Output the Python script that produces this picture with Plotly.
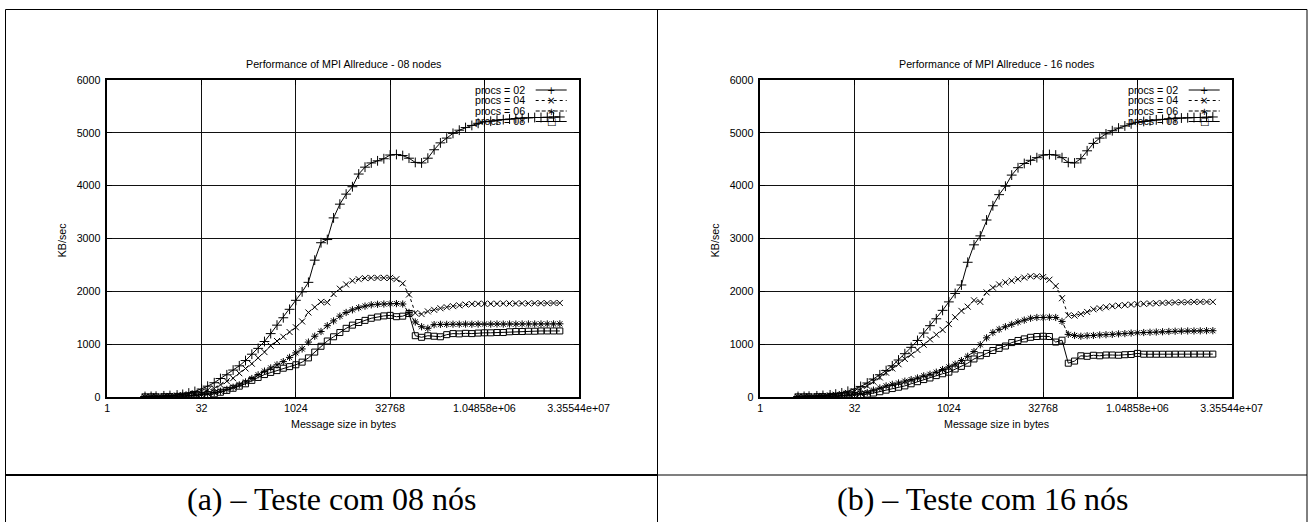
import math
import plotly.graph_objects as go

W, H = 1311, 522

# ---------------- data ----------------
sizes = [4, 5, 6, 8, 10, 13, 16, 20, 25, 32, 40, 51, 64, 81, 102, 128, 161, 203,
         256, 323, 406, 512, 645, 813, 1024, 1290, 1625, 2048, 2580, 3251, 4096,
         5161, 6502, 8192, 10321, 13004, 16384, 20643, 26008, 32768, 41285, 52016,
         65536, 82570, 104032, 131072, 165140, 208064, 262144, 330281, 416128,
         524288, 660562, 832255, 1048576, 1321123, 1664511, 2097152, 2642246,
         3329021, 4194304, 5284492, 6658043, 8388608, 10568984, 13316085, 16777216]

series_names = ["procs = 02", "procs = 04", "procs = 06", "procs = 08"]

a_procs02 = [10, 12, 15, 22, 28, 38, 50, 75, 105, 150, 205, 270, 350, 420, 510, 590, 690, 810,
             920, 1050, 1200, 1360, 1500, 1660, 1830, 1990, 2170, 2590, 2920, 2980, 3390, 3650,
             3840, 3980, 4220, 4350, 4430, 4470, 4510, 4580, 4590, 4570, 4520, 4440, 4430, 4520,
             4680, 4810, 4900, 4990, 5050, 5100, 5140, 5180, 5210, 5220, 5240, 5250, 5260, 5270,
             5280, 5285, 5290, 5290, 5295, 5300, 5300]
a_procs04 = [5, 7, 10, 14, 20, 28, 38, 52, 72, 100, 130, 160, 230, 300, 355, 450, 540, 630,
             740, 850, 970, 1060, 1140, 1230, 1320, 1430, 1600, 1700, 1800, 1790, 1950, 2050,
             2130, 2200, 2230, 2250, 2255, 2255, 2255, 2255, 2230, 2150, 1940, 1590, 1570, 1620,
             1650, 1680, 1700, 1720, 1735, 1750, 1760, 1765, 1765, 1765, 1765, 1770, 1770, 1770,
             1772, 1772, 1775, 1775, 1775, 1778, 1780]
a_procs06 = [3, 4, 6, 8, 11, 15, 20, 28, 38, 50, 62, 85, 110, 145, 185, 230, 285, 350,
             420, 490, 550, 610, 670, 750, 835, 910, 1040, 1150, 1240, 1350, 1440, 1530,
             1600, 1650, 1690, 1720, 1745, 1755, 1760, 1765, 1768, 1760, 1600, 1420, 1330, 1300,
             1370, 1375, 1375, 1378, 1378, 1380, 1378, 1380, 1380, 1380, 1382, 1380, 1382, 1380,
             1382, 1383, 1382, 1383, 1383, 1383, 1385]
a_procs08 = [2, 3, 4, 6, 8, 11, 15, 20, 26, 34, 45, 60, 90, 125, 165, 205, 250, 315,
             370, 425, 465, 500, 545, 575, 610, 660, 740, 850, 960, 1060, 1140, 1220,
             1300, 1360, 1410, 1450, 1490, 1515, 1535, 1545, 1520, 1530, 1580, 1160, 1130, 1160,
             1150, 1140, 1180, 1200, 1195, 1205, 1200, 1210, 1215, 1215, 1220, 1220, 1235, 1240,
             1240, 1245, 1245, 1250, 1250, 1250, 1250]

b_procs02 = [10, 12, 16, 22, 30, 40, 55, 78, 108, 150, 200, 265, 340, 420, 500, 590, 700, 820,
             940, 1070, 1210, 1350, 1480, 1640, 1800, 1960, 2120, 2550, 2880, 3050, 3350, 3620,
             3830, 3990, 4200, 4340, 4420, 4480, 4530, 4580, 4590, 4580, 4530, 4440, 4430, 4510,
             4660, 4800, 4900, 4980, 5040, 5090, 5130, 5170, 5200, 5215, 5230, 5245, 5255, 5265,
             5275, 5280, 5285, 5290, 5290, 5295, 5300]
b_procs04 = [5, 7, 10, 15, 21, 30, 42, 58, 78, 105, 150, 210, 290, 370, 460, 540, 620, 720,
             800, 890, 990, 1090, 1180, 1270, 1380, 1510, 1630, 1710, 1830, 1800, 1980, 2070,
             2130, 2170, 2200, 2230, 2260, 2285, 2285, 2270, 2220, 2100, 1870, 1545, 1540, 1570,
             1610, 1660, 1680, 1700, 1720, 1730, 1740, 1750, 1758, 1765, 1770, 1775, 1780, 1785,
             1790, 1795, 1795, 1800, 1800, 1800, 1800]
b_procs06 = [3, 4, 6, 8, 11, 15, 20, 27, 37, 50, 65, 85, 130, 170, 210, 240, 265, 300,
             330, 360, 400, 430, 470, 520, 570, 620, 690, 770, 860, 990, 1120, 1220,
             1280, 1330, 1375, 1420, 1455, 1490, 1505, 1505, 1510, 1505, 1430, 1185, 1165, 1150,
             1160, 1165, 1175, 1180, 1185, 1195, 1200, 1210, 1215, 1220, 1225, 1230, 1235, 1240,
             1245, 1248, 1250, 1250, 1252, 1255, 1255]
b_procs08 = [2, 3, 4, 6, 8, 11, 15, 20, 26, 32, 42, 55, 75, 100, 130, 160, 185, 210,
             250, 290, 330, 360, 405, 440, 470, 530, 580, 640, 720, 780, 825, 880,
             920, 965, 1030, 1070, 1100, 1130, 1145, 1150, 1145, 1040, 1075, 640, 680, 780,
             770, 790, 780, 795, 795, 790, 800, 805, 825, 810, 810, 810, 810, 810,
             811, 811, 811, 812, 812, 812, 812]

x_tick_vals = [1, 32, 1024, 32768, 1048576, 33554432]
x_tick_text = ["1", "32", "1024", "32768", "1.04858e+06", "3.35544e+07"]
x_minor_vals = [2 ** k for k in range(26)]
y_tick_vals = [0, 1000, 2000, 3000, 4000, 5000, 6000]
y_tick_text = ["0", "1000", "2000", "3000", "4000", "5000", "6000"]
titles = ["Performance of MPI Allreduce - 08 nodes", "Performance of MPI Allreduce - 16 nodes"]
captions = ["(a) \u2013 Teste com 08 n\u00f3s", "(b) \u2013 Teste com 16 n\u00f3s"]

# ---------------- styles ----------------
styles = [
    dict(symbol="cross-thin", size=7, dash="solid", key="+"),
    dict(symbol="x-thin", size=6, dash="dot", key="\u00d7"),
    dict(symbol="asterisk", size=6, dash="4px,2px", key="\u2217"),
    dict(symbol="square-open", size=6, dash="solid", key="\u25a1"),
]
FONT = "Liberation Sans, Arial, sans-serif"
SERIF = "Liberation Serif, Times New Roman, serif"
FS = 10.7


def fx(p):
    return p / W


def fy(p):
    return 1 - p / H


panels = [
    dict(left=107.3, right=578.7, data=[a_procs02, a_procs04, a_procs06, a_procs08],
         cell=(5.5, 657.5)),
    dict(left=760.3, right=1231.7, data=[b_procs02, b_procs04, b_procs06, b_procs08],
         cell=(657.5, 1307.0)),
]
TOP, BOTTOM = 80.0, 397.0
XRANGE = [0, math.log10(2 ** 25)]

fig = go.Figure()
annotations = []
shapes = []
layout = {}

for pi, p in enumerate(panels):
    xn, yn = 2 * pi + 1, pi + 1
    xa = "x" if xn == 1 else "x%d" % xn
    ya = "y" if yn == 1 else "y%d" % yn
    xkey = "xaxis" if xn == 1 else "xaxis%d" % xn
    ykey = "yaxis" if yn == 1 else "yaxis%d" % yn
    minor_key = "xaxis%d" % (xn + 1)
    for si, vals in enumerate(p["data"]):
        st = styles[si]
        fig.add_trace(go.Scatter(
            x=sizes, y=vals, mode="lines+markers", name=series_names[si],
            xaxis=xa, yaxis=ya, showlegend=False,
            line=dict(color="black", width=1, dash=st["dash"]),
            marker=dict(symbol=st["symbol"], size=st["size"], color="black",
                        line=dict(color="black", width=1)),
        ))
    tickfont = dict(family=FONT, size=FS, color="black")
    layout[xkey] = dict(
        type="log", range=XRANGE, domain=[fx(p["left"]), fx(p["right"])], anchor=ya,
        tickmode="array", tickvals=x_tick_vals, ticktext=x_tick_text,
        ticks="inside", ticklen=5, tickwidth=1, tickcolor="black",
        showline=True, linecolor="black", linewidth=1.5, mirror="ticks",
        showgrid=True, gridcolor="#111", gridwidth=1, zeroline=False,
        tickfont=tickfont, automargin=False,
    )
    # second x axis only to carry the per-octave minor ticks
    layout[minor_key] = dict(
        type="log", range=XRANGE, overlaying=xa, anchor=ya, side="bottom",
        tickmode="array", tickvals=x_minor_vals, ticktext=[""] * len(x_minor_vals),
        ticks="inside", ticklen=4, tickwidth=1, tickcolor="black",
        showline=False, mirror="ticks", showgrid=False, zeroline=False,
        showticklabels=False, automargin=False,
    )
    layout[ykey] = dict(
        range=[0, 6000], domain=[fy(BOTTOM), fy(TOP)], anchor=xa,
        tickmode="array", tickvals=y_tick_vals,
        ticktext=[t + "\u00a0" for t in y_tick_text],
        ticks="inside", ticklen=5, tickwidth=1, tickcolor="black",
        showline=True, linecolor="black", linewidth=1.5, mirror="ticks",
        showgrid=True, gridcolor="#111", gridwidth=1, zeroline=False,
        tickfont=tickfont, automargin=False,
    )
    cx = (p["left"] + p["right"]) / 2
    annotations.append(dict(text=titles[pi], x=fx(cx), y=fy(64), xref="paper", yref="paper",
                            showarrow=False, xanchor="center", yanchor="middle",
                            font=dict(family=FONT, size=FS, color="black")))
    annotations.append(dict(text="Message size in bytes", x=fx(cx), y=fy(424), xref="paper",
                            yref="paper", showarrow=False, xanchor="center", yanchor="middle",
                            font=dict(family=FONT, size=FS, color="black")))
    annotations.append(dict(text="KB/sec", x=fx(p["left"] - 45), y=fy(240), xref="paper",
                            yref="paper", showarrow=False, xanchor="center", yanchor="middle",
                            textangle=-90, font=dict(family=FONT, size=FS, color="black")))
    c0, c1 = p["cell"]
    annotations.append(dict(text=captions[pi], x=fx((c0 + c1) / 2), y=fy(499), xref="paper",
                            yref="paper", showarrow=False, xanchor="center", yanchor="middle",
                            font=dict(family=SERIF, size=32, color="black")))

    # gnuplot-style key: text, then a line sample with its point glyph
    text_right = p["right"] - 52
    key0, key1 = p["right"] - 43, p["right"] - 12
    for si, name in enumerate(series_names):
        yrow = 90 + si * 10.5
        annotations.append(dict(text=name, x=fx(text_right), y=fy(yrow), xref="paper",
                                yref="paper", showarrow=False, xanchor="right",
                                yanchor="middle", font=dict(family=FONT, size=FS, color="black")))
        shapes.append(dict(type="line", xref="paper", yref="paper",
                           x0=fx(key0), x1=fx(key1), y0=fy(yrow), y1=fy(yrow),
                           line=dict(color="black", width=1, dash=styles[si]["dash"])))
        annotations.append(dict(text=styles[si]["key"], x=fx((key0 + key1) / 2), y=fy(yrow),
                                xref="paper", yref="paper", showarrow=False,
                                xanchor="center", yanchor="middle",
                                font=dict(family="DejaVu Sans", size=10, color="black")))

# table borders
L_, R_, M_ = 5.5, 1307.0, 657.5
shapes += [
    dict(type="line", xref="paper", yref="paper", x0=fx(L_), x1=fx(R_), y0=fy(9.5), y1=fy(9.5),
         line=dict(color="black", width=1)),
    dict(type="line", xref="paper", yref="paper", x0=fx(L_), x1=fx(L_), y0=fy(9.5), y1=0,
         line=dict(color="black", width=1)),
    dict(type="line", xref="paper", yref="paper", x0=fx(R_), x1=fx(R_), y0=fy(9.5), y1=0,
         line=dict(color="black", width=1)),
    dict(type="line", xref="paper", yref="paper", x0=fx(M_), x1=fx(M_), y0=fy(9.5), y1=0,
         line=dict(color="black", width=1)),
    dict(type="line", xref="paper", yref="paper", x0=fx(L_), x1=fx(M_), y0=fy(475), y1=fy(475),
         line=dict(color="black", width=2)),
    dict(type="line", xref="paper", yref="paper", x0=fx(M_), x1=fx(R_), y0=fy(475), y1=fy(475),
         line=dict(color="black", width=1.2)),
]

fig.update_layout(
    width=W, height=H, autosize=False,
    margin=dict(l=0, r=0, t=0, b=0, pad=0, autoexpand=False),
    paper_bgcolor="white", plot_bgcolor="white", showlegend=False,
    annotations=annotations, shapes=shapes, **layout,
)

fig.write_html(
    "out.html",
    config={"displayModeBar": False, "responsive": False},
    post_script="document.body.style.margin='0';document.body.style.padding='0';"
                "document.body.style.overflow='hidden';",
)
